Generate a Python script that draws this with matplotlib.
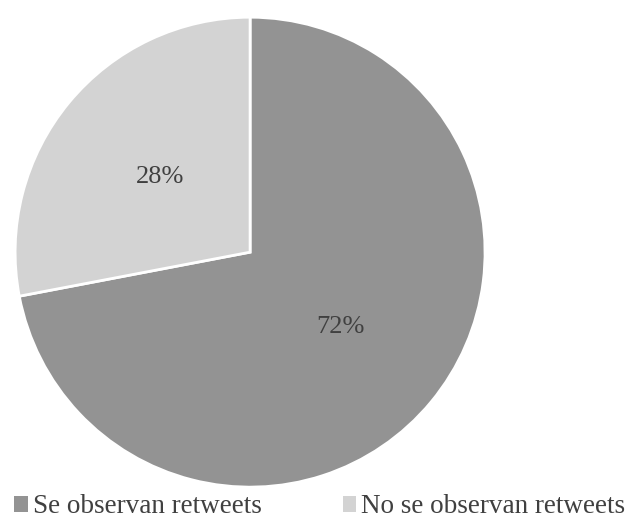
import matplotlib
matplotlib.use("Agg")
import matplotlib.pyplot as plt
from matplotlib.patches import Patch

labels = ["Se observan retweets", "No se observan retweets"]
values = [72, 28]
colors = ["#939393", "#d3d3d3"]

plt.rcParams["font.family"] = ["Liberation Serif", "DejaVu Serif"]

fig = plt.figure(figsize=(6.26, 5.21), dpi=100)
ax = fig.add_axes([0.024, 0.065, 0.751, 0.902])
wedges, texts, autotexts = ax.pie(
    values, colors=colors, startangle=90, counterclock=False,
    autopct="%d%%", pctdistance=0.5,
    wedgeprops=dict(edgecolor="white", linewidth=2),
    textprops=dict(fontsize=19, color="#404040"))
ax.set_xlim(-1, 1)
ax.set_ylim(-1, 1)
ax.set_aspect("equal")

handles = [Patch(facecolor=c, edgecolor="none") for c in colors]
fig.legend(handles, labels, loc="center", bbox_to_anchor=(0.511, 0.027), ncol=2,
           frameon=False, fontsize=19.5, handlelength=0.5, handleheight=0.5,
           handletextpad=0.18, columnspacing=3.0, labelcolor="#404040",
           borderpad=0.1, borderaxespad=0)

fig.savefig("out.png", dpi=100, facecolor="white")
